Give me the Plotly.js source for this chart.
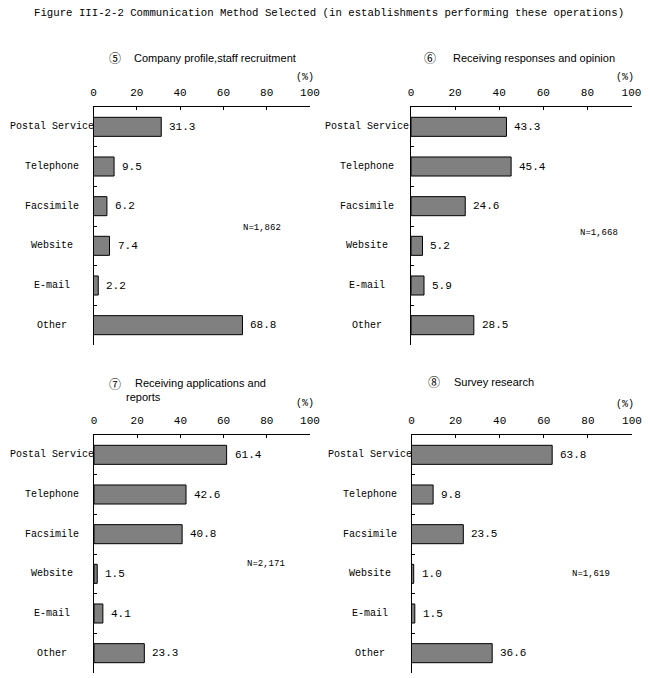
<!DOCTYPE html>
<html><head><meta charset="utf-8">
<script src="https://cdn.plot.ly/plotly-3.0.1.min.js"></script>
<style>html,body{margin:0;padding:0;background:#fff}#chart{width:650px;height:678px}</style>
</head><body><div id="chart"></div>
<script>
// ---- data ----
const categories = ["Postal Service","Telephone","Facsimile","Website","E-mail","Other"];
const profileValues = [31.3, 9.5, 6.2, 7.4, 2.2, 68.8];
const responsesValues = [43.3, 45.4, 24.6, 5.2, 5.9, 28.5];
const applicationsValues = [61.4, 42.6, 40.8, 1.5, 4.1, 23.3];
const surveyValues = [63.8, 9.8, 23.5, 1.0, 1.5, 36.6];
const panelMarks = ["⑤","⑥","⑦","⑧"];
const panelTitles = [["Company profile,staff recruitment"],["Receiving responses and opinion"],["Receiving applications and","reports"],["Survey research"]];
const sampleSizes = ["N=1,862","N=1,668","N=2,171","N=1,619"];
const xTicks = [0, 20, 40, 60, 80, 100];
const unitLabel = "(%)";
const mainTitle = "Figure III-2-2 Communication Method Selected (in establishments performing these operations)";

// ---- layout geometry (pixels) ----
const W = 650, H = 678;
const px = x => x / W, py = y => 1 - y / H;
const MONO = "Liberation Mono, DejaVu Sans Mono, monospace";
const SANS = "Liberation Sans, DejaVu Sans, sans-serif";
const seriesList = [profileValues, responsesValues, applicationsValues, surveyValues];
const geo = [
  {x0:93.5, x1:310,   y0:107, y1:345, labCx:52,  markX:107, titleX:132, titleY:58,  unitR:316, unitY:77,  nX:262, nY:228},
  {x0:411,  x1:631.5, y0:107, y1:345, labCx:367, markX:422, titleX:451, titleY:58,  unitR:636, unitY:77,  nX:599, nY:233},
  {x0:94,   x1:310,   y0:435, y1:673, labCx:52,  markX:107, titleX:133, titleY:383, unitR:316, unitY:403, nX:266, nY:564},
  {x0:411.5,x1:632,   y0:435, y1:673, labCx:370, markX:426, titleX:452, titleY:382, unitR:636, unitY:404, nX:591, nY:574}
];

const data = [];
const annotations = [];
const layout = {
  width: W, height: H, margin: {l:0, r:0, t:0, b:0},
  paper_bgcolor: "#fff", plot_bgcolor: "#fff", showlegend: false,
  font: {family: MONO, size: 11, color: "#000"},
  annotations: annotations
};

annotations.push({xref:"paper", yref:"paper", x:px(32), y:py(13), xanchor:"left", yanchor:"middle",
  text: mainTitle, showarrow:false, font:{family:MONO, size:10.7, color:"#000"}});

seriesList.forEach((vals, i) => {
  const g = geo[i];
  const n = i + 1;
  const xa = "x" + (n === 1 ? "" : n), ya = "y" + (n === 1 ? "" : n);
  data.push({
    type: "bar", orientation: "h", x: vals, y: categories, xaxis: xa, yaxis: ya,
    width: 0.48, marker: {color: "#808080", line: {color: "#000", width: 1}},
    hoverinfo: "x+y"
  });
  layout["xaxis" + (n === 1 ? "" : n)] = {
    domain: [px(g.x0), px(g.x1)], anchor: ya, side: "top", range: [0, 100],
    tickvals: xTicks, ticktext: xTicks.map(String), ticks: "inside", ticklen: 3, tickcolor: "#000",
    showline: true, linecolor: "#000", linewidth: 1, showgrid: false, zeroline: false,
    tickfont: {family: MONO, size: 11, color: "#000"}, ticklabelstandoff: 6, fixedrange: true
  };
  layout["yaxis" + (n === 1 ? "" : n)] = {
    domain: [py(g.y1), py(g.y0)], anchor: xa, type: "category",
    categoryorder: "array", categoryarray: categories, range: [categories.length - 0.5, -0.5],
    ticks: "inside", tickson: "boundaries", ticklen: 3, tickcolor: "#000",
    showticklabels: false, showline: true, linecolor: "#000", linewidth: 1,
    showgrid: false, zeroline: false, fixedrange: true
  };
  // category labels (centered)
  categories.forEach((c) => {
    annotations.push({xref:"paper", yref: ya, x: px(g.labCx), y: c, xanchor:"center", yanchor:"middle",
      text: c, showarrow:false, font:{family:MONO, size:10, color:"#000"}});
  });
  // value labels
  vals.forEach((v, k) => {
    annotations.push({xref: xa, yref: ya, x: v, y: categories[k], xanchor:"left", yanchor:"middle",
      xshift: 6, text: v.toFixed(1), showarrow:false, font:{family:MONO, size:11, color:"#000"}});
  });
  // panel title
  annotations.push({xref:"paper", yref:"paper", x:px(g.markX), y:py(g.titleY), xanchor:"left", yanchor:"middle",
    text: panelMarks[i], showarrow:false, font:{family:"Noto Sans CJK JP, DejaVu Sans, sans-serif", size:12, color:"#000"}});
  panelTitles[i].forEach((line, li) => {
    annotations.push({xref:"paper", yref:"paper", x:px(g.titleX - (li > 0 ? 9 : 0)), y:py(g.titleY + li * 14),
      xanchor:"left", yanchor:"middle", text: line, showarrow:false, font:{family:SANS, size:11, color:"#000"}});
  });
  // unit label
  annotations.push({xref:"paper", yref:"paper", x:px(g.unitR), y:py(g.unitY), xanchor:"right", yanchor:"middle",
    text: unitLabel, showarrow:false, font:{family:MONO, size:10, color:"#000"}});
  // sample size
  annotations.push({xref:"paper", yref:"paper", x:px(g.nX), y:py(g.nY), xanchor:"center", yanchor:"middle",
    text: sampleSizes[i], showarrow:false, font:{family:MONO, size:9, color:"#000"}});
});

Plotly.newPlot("chart", data, layout, {displayModeBar: false, staticPlot: true});
</script></body></html>
